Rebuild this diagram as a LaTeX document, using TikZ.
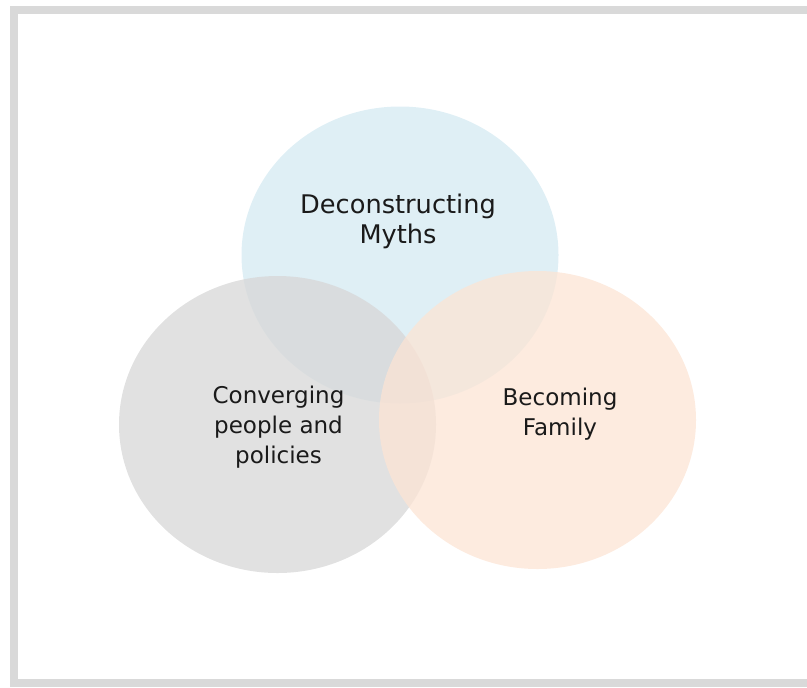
\documentclass[tikz,border=0pt]{standalone}
\usepackage{fontspec}
\setmainfont{DejaVu Sans}
\usetikzlibrary{positioning}

\definecolor{mythblue}{HTML}{D4EAF2}
\definecolor{peoplegray}{HTML}{D7D7D7}
\definecolor{familypeach}{HTML}{FCE4D4}
\definecolor{framegray}{HTML}{D9D9D9}
\definecolor{labeltext}{HTML}{1A1A1A}

\tikzset{
  bubble/.style={fill opacity=0.75},
  label big/.style={align=center, text=labeltext, font=\fontsize{14.6}{17.1}\selectfont},
  label small/.style={align=center, text=labeltext, font=\fontsize{13.1}{17.1}\selectfont}
}

\begin{document}
\begin{tikzpicture}[x=0.02cm,y=-0.02cm]
  \useasboundingbox (0,0) rectangle (807,687);
  \clip (0,0) rectangle (807,687);
  \draw[framegray,line width=4.55pt] (14,10) rectangle (815,683);
  \fill[mythblue,bubble] (400,255) ellipse (158.5 and 148.5);
  \fill[peoplegray,bubble] (277.5,424.5) ellipse (158.5 and 148.5);
  \fill[familypeach,bubble] (537.5,420) ellipse (158.5 and 149);
  \node[label big] (myths) at (398,221.5) {Deconstructing\\Myths};
  \node[label small] (people) at (278.5,427) {Converging\\people and\\policies};
  \node[label small] (family) at (560,414) {Becoming\\Family};
\end{tikzpicture}
\end{document}
